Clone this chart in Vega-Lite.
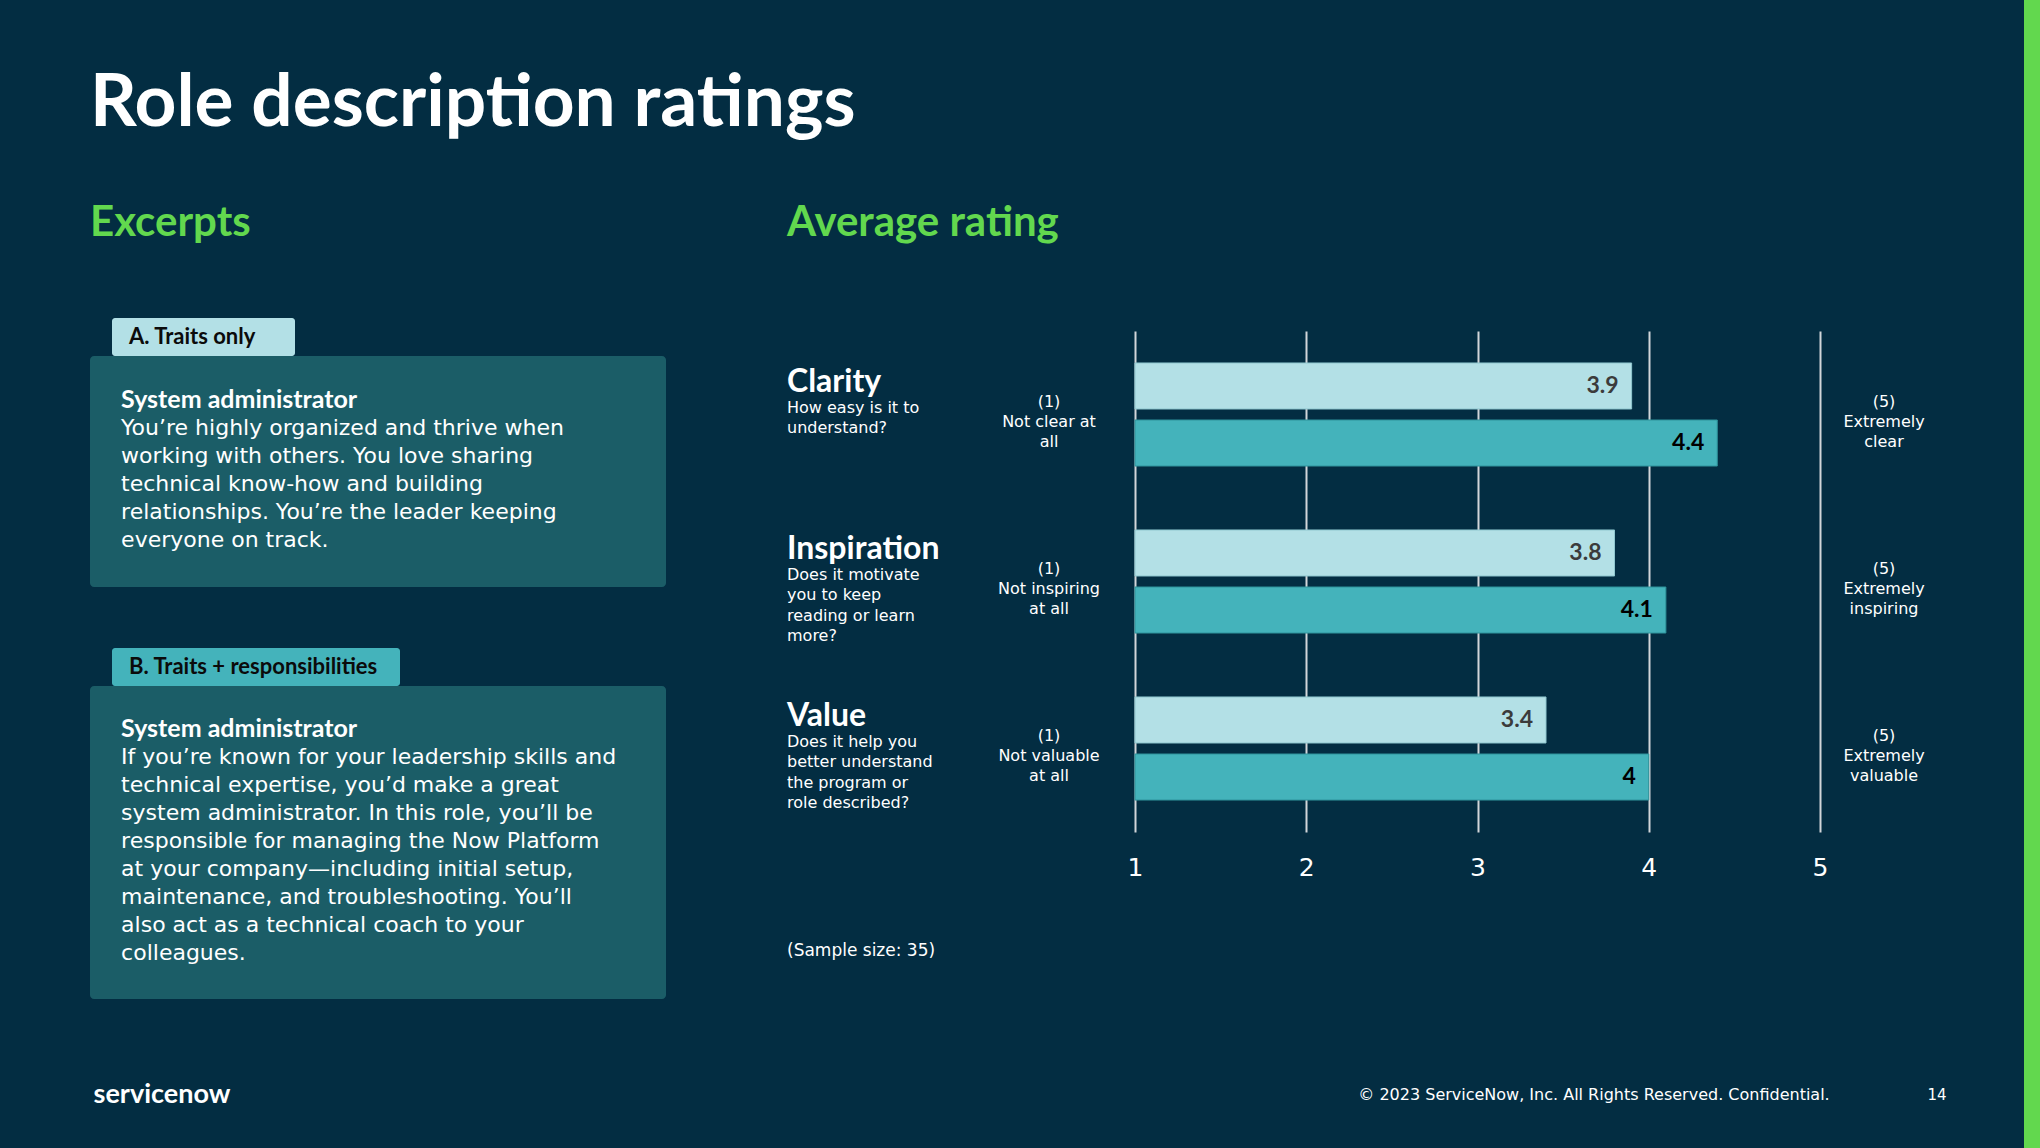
{
  "$schema": "https://vega.github.io/schema/vega-lite/v6.json",
  "background": "#032d42",
  "padding": {"left": 90, "top": 0, "right": 0, "bottom": 0},
  "config": {
    "view": {"stroke": null},
    "title": {"color": "#ffffff", "anchor": "start", "frame": "group"}
  },
  "datasets": {
    "ratings": [
      {"dimension": "Clarity", "version": "Traits only", "rating": 3.9},
      {"dimension": "Clarity", "version": "Traits + responsibilities", "rating": 4.4},
      {"dimension": "Inspiration", "version": "Traits only", "rating": 3.8},
      {"dimension": "Inspiration", "version": "Traits + responsibilities", "rating": 4.1},
      {"dimension": "Value", "version": "Traits only", "rating": 3.4},
      {"dimension": "Value", "version": "Traits + responsibilities", "rating": 4}
    ],
    "dimensions": [
      {"dimension": "Clarity", "question": "How easy is it to\nunderstand?", "low": "(1)\nNot clear at\nall", "high": "(5)\nExtremely\nclear"},
      {"dimension": "Inspiration", "question": "Does it motivate\nyou to keep\nreading or learn\nmore?", "low": "(1)\nNot inspiring\nat all", "high": "(5)\nExtremely\ninspiring"},
      {"dimension": "Value", "question": "Does it help you\nbetter understand\nthe program or\nrole described?", "low": "(1)\nNot valuable\nat all", "high": "(5)\nExtremely\nvaluable"}
    ],
    "tabs": [
      {"excerpt": "A", "tab": "A. Traits only"},
      {"excerpt": "B", "tab": "B. Traits + responsibilities"}
    ],
    "excerpts": [
      {"excerpt": "A", "line": 0, "text": "System administrator"},
      {"excerpt": "A", "line": 1, "text": "You’re highly organized and thrive when"},
      {"excerpt": "A", "line": 2, "text": "working with others. You love sharing"},
      {"excerpt": "A", "line": 3, "text": "technical know-how and building"},
      {"excerpt": "A", "line": 4, "text": "relationships. You’re the leader keeping"},
      {"excerpt": "A", "line": 5, "text": "everyone on track."},
      {"excerpt": "B", "line": 0, "text": "System administrator"},
      {"excerpt": "B", "line": 1, "text": "If you’re known for your leadership skills and"},
      {"excerpt": "B", "line": 2, "text": "technical expertise, you’d make a great"},
      {"excerpt": "B", "line": 3, "text": "system administrator. In this role, you’ll be"},
      {"excerpt": "B", "line": 4, "text": "responsible for managing the Now Platform"},
      {"excerpt": "B", "line": 5, "text": "at your company—including initial setup,"},
      {"excerpt": "B", "line": 6, "text": "maintenance, and troubleshooting. You’ll"},
      {"excerpt": "B", "line": 7, "text": "also act as a technical coach to your"},
      {"excerpt": "B", "line": 8, "text": "colleagues."}
    ]
  },
  "spacing": 67,
  "hconcat": [
    {
      "spacing": 0,
      "vconcat": [
        {"width": 10, "height": 68, "data": {"values": []}, "mark": "text"},
        {
          "title": {"text": "Role description ratings", "font": "Lato", "fontWeight": "bold", "fontSize": 73, "offset": 61},
          "spacing": 76,
          "vconcat": [
            {
              "spacing": 121,
              "hconcat": [
                {
                  "title": {"text": "Excerpts", "font": "Lato", "fontWeight": "bold", "fontSize": 42, "color": "#62d84e", "offset": 73},
                  "spacing": 61,
                  "vconcat": [
                    {
                      "spacing": 0,
                      "vconcat": [
                        {
                          "spacing": 0,
                          "bounds": "flush",
                          "hconcat": [
                            {"width": 22, "height": 38, "data": {"values": []}, "mark": "text"},
                            {
                              "width": 183, "height": 38,
                              "view": {"fill": "#b3e0e6", "cornerRadius": 3},
                              "data": {"name": "tabs"},
                              "transform": [{"filter": "datum.excerpt === 'A'"}],
                              "mark": {"type": "text", "align": "left", "baseline": "middle", "font": "Lato", "fontWeight": "bold", "fontSize": 22, "color": "#0b0b0b"},
                              "encoding": {
                                "x": {"field": "tab", "type": "nominal", "axis": null, "scale": {"type": "point", "align": 0.093}},
                                "text": {"field": "tab"}
                              }
                            }
                          ]
                        },
                        {
                          "width": 576, "height": 231,
                          "view": {"fill": "#1b5d67", "cornerRadius": 4},
                          "data": {"name": "excerpts"},
                          "transform": [{"filter": "datum.excerpt === 'A'"}],
                          "encoding": {
                            "x": {"field": "excerpt", "type": "nominal", "axis": null, "scale": {"type": "point", "align": 0.054}},
                            "y": {"field": "line", "type": "quantitative", "axis": null, "scale": {"domain": [-1.571, 6.679], "reverse": true, "nice": false, "zero": false}},
                            "text": {"field": "text"}
                          },
                          "layer": [
                            {"transform": [{"filter": "datum.line === 0"}], "mark": {"type": "text", "align": "left", "baseline": "middle", "font": "Lato", "fontWeight": "bold", "fontSize": 25, "color": "#ffffff"}},
                            {"transform": [{"filter": "datum.line > 0"}], "mark": {"type": "text", "align": "left", "baseline": "middle", "font": "DejaVu Sans", "fontSize": 22, "color": "#ffffff"}}
                          ]
                        }
                      ]
                    },
                    {
                      "spacing": 0,
                      "vconcat": [
                        {
                          "spacing": 0,
                          "bounds": "flush",
                          "hconcat": [
                            {"width": 22, "height": 38, "data": {"values": []}, "mark": "text"},
                            {
                              "width": 288, "height": 38,
                              "view": {"fill": "#44b3bb", "cornerRadius": 3},
                              "data": {"name": "tabs"},
                              "transform": [{"filter": "datum.excerpt === 'B'"}],
                              "mark": {"type": "text", "align": "left", "baseline": "middle", "font": "Lato", "fontWeight": "bold", "fontSize": 22, "color": "#0b0b0b"},
                              "encoding": {
                                "x": {"field": "tab", "type": "nominal", "axis": null, "scale": {"type": "point", "align": 0.059}},
                                "text": {"field": "tab"}
                              }
                            }
                          ]
                        },
                        {
                          "width": 576, "height": 313,
                          "view": {"fill": "#1b5d67", "cornerRadius": 4},
                          "data": {"name": "excerpts"},
                          "transform": [{"filter": "datum.excerpt === 'B'"}],
                          "encoding": {
                            "x": {"field": "excerpt", "type": "nominal", "axis": null, "scale": {"type": "point", "align": 0.054}},
                            "y": {"field": "line", "type": "quantitative", "axis": null, "scale": {"domain": [-1.553, 9.625], "reverse": true, "nice": false, "zero": false}},
                            "text": {"field": "text"}
                          },
                          "layer": [
                            {"transform": [{"filter": "datum.line === 0"}], "mark": {"type": "text", "align": "left", "baseline": "middle", "font": "Lato", "fontWeight": "bold", "fontSize": 25, "color": "#ffffff"}},
                            {"transform": [{"filter": "datum.line > 0"}], "mark": {"type": "text", "align": "left", "baseline": "middle", "font": "DejaVu Sans", "fontSize": 22, "color": "#ffffff"}}
                          ]
                        }
                      ]
                    }
                  ]
                },
                {
                  "title": {"text": "Average rating", "font": "Lato", "fontWeight": "bold", "fontSize": 42, "color": "#62d84e", "offset": 73},
                  "spacing": 0,
                  "vconcat": [
                    {"width": 10, "height": 13, "data": {"values": []}, "mark": "text"},
                    {
                      "title": {"text": "(Sample size: 35)", "orient": "bottom", "font": "DejaVu Sans", "fontWeight": "normal", "fontSize": 17, "offset": 63},
                      "spacing": 0,
                      "bounds": "flush",
                      "hconcat": [
                        {
                          "width": 176, "height": 501,
                          "data": {"name": "dimensions"},
                          "encoding": {
                            "x": {"datum": 0, "type": "quantitative", "axis": null, "scale": {"domain": [0, 1]}},
                            "y": {"field": "dimension", "type": "nominal", "sort": ["Clarity", "Inspiration", "Value"], "axis": null, "scale": {"type": "band", "paddingInner": 0.383, "paddingOuter": 0.1915}}
                          },
                          "layer": [
                            {"mark": {"type": "text", "align": "left", "baseline": "alphabetic", "dy": -23, "font": "Lato", "fontWeight": "bold", "fontSize": 32, "color": "#ffffff"}, "encoding": {"text": {"field": "dimension"}}},
                            {"mark": {"type": "text", "align": "left", "baseline": "alphabetic", "dy": -2, "lineBreak": "\n", "lineHeight": 20.5, "font": "DejaVu Sans", "fontSize": 16, "color": "#ffffff"}, "encoding": {"text": {"field": "question"}}}
                          ]
                        },
                        {
                          "width": 172, "height": 501,
                          "data": {"name": "dimensions"},
                          "mark": {"type": "text", "align": "center", "baseline": "middle", "dy": -13, "lineBreak": "\n", "lineHeight": 20, "font": "DejaVu Sans", "fontSize": 16, "color": "#ffffff"},
                          "encoding": {
                            "y": {"field": "dimension", "type": "nominal", "sort": ["Clarity", "Inspiration", "Value"], "axis": null, "scale": {"type": "band", "paddingInner": 0.383, "paddingOuter": 0.1915}},
                            "text": {"field": "low"}
                          }
                        },
                        {
                          "width": 685, "height": 501,
                          "data": {"name": "ratings"},
                          "encoding": {
                            "y": {"field": "dimension", "type": "nominal", "sort": ["Clarity", "Inspiration", "Value"], "axis": null, "scale": {"type": "band", "paddingInner": 0.383, "paddingOuter": 0.1915}},
                            "yOffset": {"field": "version", "type": "nominal", "sort": ["Traits only", "Traits + responsibilities"], "scale": {"paddingInner": 0.193, "paddingOuter": 0}}
                          },
                          "layer": [
                            {
                              "mark": {"type": "bar", "strokeWidth": 1},
                              "encoding": {
                                "x": {
                                  "field": "rating", "type": "quantitative",
                                  "scale": {"domain": [1, 5], "nice": false, "zero": false},
                                  "axis": {"values": [1, 2, 3, 4, 5], "format": "d", "grid": true, "gridColor": "#d2d6d9", "gridWidth": 2, "domain": false, "ticks": false, "tickSize": 0, "labelPadding": 23, "labelFont": "DejaVu Sans", "labelFontSize": 25, "labelColor": "#ffffff", "labelFlush": false, "title": null}
                                },
                                "x2": {"datum": 1},
                                "color": {"field": "version", "type": "nominal", "scale": {"domain": ["Traits only", "Traits + responsibilities"], "range": ["#b3e0e6", "#44b3bb"]}, "legend": null},
                                "stroke": {"field": "version", "type": "nominal", "scale": {"domain": ["Traits only", "Traits + responsibilities"], "range": ["#8fc6ce", "#2f939b"]}, "legend": null}
                              }
                            },
                            {
                              "mark": {"type": "text", "align": "right", "baseline": "middle", "dx": -13, "font": "Lato", "fontWeight": "bold", "fontSize": 23},
                              "encoding": {
                                "x": {"field": "rating", "type": "quantitative"},
                                "text": {"field": "rating", "type": "quantitative"},
                                "color": {"condition": {"test": "datum.version === 'Traits only'", "value": "#3b3b3b"}, "value": "#000000"}
                              }
                            }
                          ]
                        },
                        {
                          "width": 128, "height": 501,
                          "data": {"name": "dimensions"},
                          "mark": {"type": "text", "align": "center", "baseline": "middle", "dy": -13, "lineBreak": "\n", "lineHeight": 20, "font": "DejaVu Sans", "fontSize": 16, "color": "#ffffff"},
                          "encoding": {
                            "y": {"field": "dimension", "type": "nominal", "sort": ["Clarity", "Inspiration", "Value"], "axis": null, "scale": {"type": "band", "paddingInner": 0.383, "paddingOuter": 0.1915}},
                            "text": {"field": "high"}
                          }
                        }
                      ]
                    }
                  ]
                }
              ]
            },
            {
              "spacing": 0,
              "bounds": "flush",
              "hconcat": [
                {
                  "width": 144, "height": 40,
                  "data": {"values": [{"label": "servicenow"}]},
                  "mark": {"type": "text", "align": "center", "baseline": "middle", "font": "Lato", "fontWeight": "bold", "fontSize": 27, "color": "#ffffff"},
                  "encoding": {"text": {"field": "label"}}
                },
                {"width": 1124, "height": 40, "data": {"values": []}, "mark": "text"},
                {
                  "width": 472, "height": 40,
                  "data": {"values": [{"label": "© 2023 ServiceNow, Inc. All Rights Reserved. Confidential."}]},
                  "mark": {"type": "text", "align": "center", "baseline": "middle", "font": "DejaVu Sans", "fontSize": 16, "color": "#ffffff"},
                  "encoding": {"text": {"field": "label"}}
                },
                {"width": 87, "height": 40, "data": {"values": []}, "mark": "text"},
                {
                  "width": 40, "height": 40,
                  "data": {"values": [{"label": "14"}]},
                  "mark": {"type": "text", "align": "center", "baseline": "middle", "font": "DejaVu Sans", "fontSize": 15, "color": "#ffffff"},
                  "encoding": {"text": {"field": "label"}}
                }
              ]
            }
          ]
        }
      ]
    },
    {"width": 16, "height": 1148, "view": {"fill": "#62d84e"}, "data": {"values": []}, "mark": "text"}
  ]
}
